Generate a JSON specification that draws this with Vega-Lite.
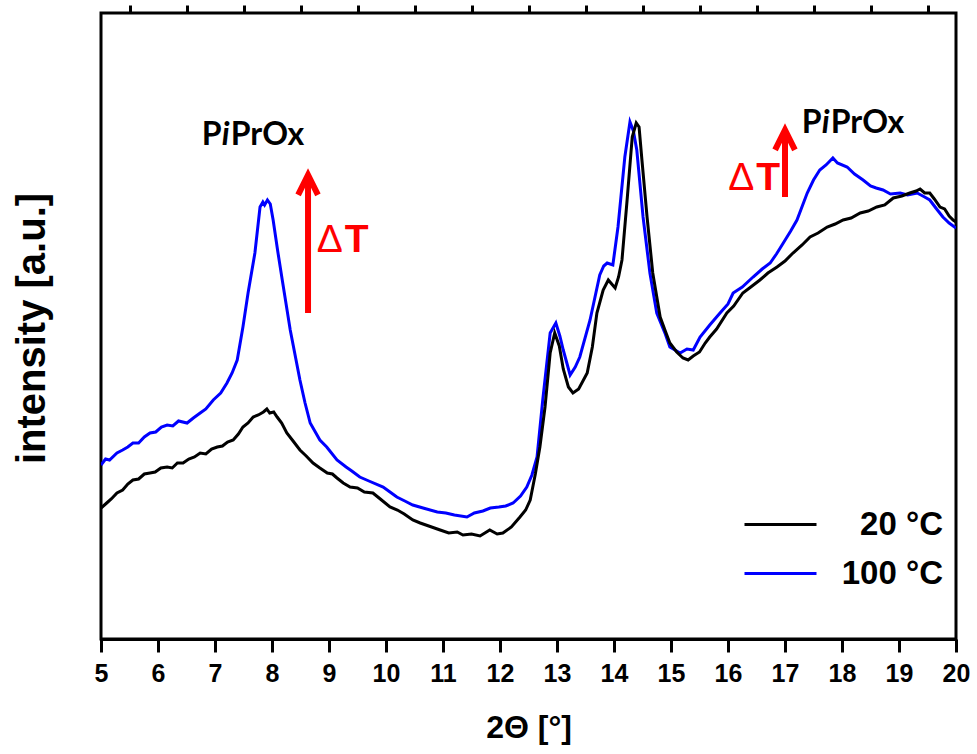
{
  "$schema": "https://vega.github.io/schema/vega-lite/v6.json",
  "width": 855,
  "height": 626,
  "autosize": {"type": "none"},
  "padding": {"left": 101, "top": 13, "right": 21, "bottom": 115},
  "background": "white",
  "config": {
    "font": "Liberation Sans",
    "view": {"stroke": "black", "strokeWidth": 3}
  },
  "resolve": {"axis": {"x": "independent", "y": "independent"}},
  "layer": [
    {
      "data": {"values": [
        {"s":"100 °C","t":5.00,"v":174},{"s":"100 °C","t":5.08,"v":180},{"s":"100 °C","t":5.15,"v":179},{"s":"100 °C","t":5.28,"v":186},{"s":"100 °C","t":5.38,"v":189},{"s":"100 °C","t":5.47,"v":192},{"s":"100 °C","t":5.56,"v":196},{"s":"100 °C","t":5.66,"v":196},{"s":"100 °C","t":5.76,"v":202},{"s":"100 °C","t":5.86,"v":206},{"s":"100 °C","t":5.96,"v":207},{"s":"100 °C","t":6.06,"v":212},{"s":"100 °C","t":6.16,"v":214},{"s":"100 °C","t":6.26,"v":213},{"s":"100 °C","t":6.36,"v":218},{"s":"100 °C","t":6.51,"v":216},{"s":"100 °C","t":6.62,"v":221},{"s":"100 °C","t":6.74,"v":226},{"s":"100 °C","t":6.84,"v":230},{"s":"100 °C","t":6.97,"v":239},{"s":"100 °C","t":7.10,"v":246},{"s":"100 °C","t":7.21,"v":256},{"s":"100 °C","t":7.30,"v":266},{"s":"100 °C","t":7.39,"v":279},{"s":"100 °C","t":7.49,"v":312},{"s":"100 °C","t":7.58,"v":346},{"s":"100 °C","t":7.70,"v":386},{"s":"100 °C","t":7.79,"v":432},{"s":"100 °C","t":7.84,"v":437},{"s":"100 °C","t":7.87,"v":434},{"s":"100 °C","t":7.92,"v":439},{"s":"100 °C","t":7.97,"v":435},{"s":"100 °C","t":8.02,"v":419},{"s":"100 °C","t":8.10,"v":388},{"s":"100 °C","t":8.18,"v":359},{"s":"100 °C","t":8.32,"v":309},{"s":"100 °C","t":8.49,"v":259},{"s":"100 °C","t":8.58,"v":236},{"s":"100 °C","t":8.67,"v":216},{"s":"100 °C","t":8.76,"v":207},{"s":"100 °C","t":8.84,"v":199},{"s":"100 °C","t":8.96,"v":192},{"s":"100 °C","t":9.14,"v":179},{"s":"100 °C","t":9.30,"v":172},{"s":"100 °C","t":9.40,"v":168},{"s":"100 °C","t":9.54,"v":162},{"s":"100 °C","t":9.70,"v":158},{"s":"100 °C","t":9.95,"v":152},{"s":"100 °C","t":10.07,"v":147},{"s":"100 °C","t":10.19,"v":142},{"s":"100 °C","t":10.33,"v":138},{"s":"100 °C","t":10.47,"v":134},{"s":"100 °C","t":10.65,"v":131},{"s":"100 °C","t":10.90,"v":127},{"s":"100 °C","t":11.05,"v":126},{"s":"100 °C","t":11.20,"v":124},{"s":"100 °C","t":11.42,"v":122},{"s":"100 °C","t":11.55,"v":126},{"s":"100 °C","t":11.70,"v":128},{"s":"100 °C","t":11.83,"v":131},{"s":"100 °C","t":11.98,"v":132},{"s":"100 °C","t":12.10,"v":133},{"s":"100 °C","t":12.23,"v":136},{"s":"100 °C","t":12.36,"v":143},{"s":"100 °C","t":12.47,"v":152},{"s":"100 °C","t":12.56,"v":164},{"s":"100 °C","t":12.65,"v":182},{"s":"100 °C","t":12.75,"v":239},{"s":"100 °C","t":12.88,"v":306},{"s":"100 °C","t":12.98,"v":316},{"s":"100 °C","t":13.05,"v":303},{"s":"100 °C","t":13.11,"v":289},{"s":"100 °C","t":13.23,"v":264},{"s":"100 °C","t":13.32,"v":272},{"s":"100 °C","t":13.40,"v":282},{"s":"100 °C","t":13.58,"v":319},{"s":"100 °C","t":13.75,"v":364},{"s":"100 °C","t":13.82,"v":373},{"s":"100 °C","t":13.88,"v":376},{"s":"100 °C","t":13.98,"v":374},{"s":"100 °C","t":14.07,"v":412},{"s":"100 °C","t":14.19,"v":482},{"s":"100 °C","t":14.28,"v":517},{"s":"100 °C","t":14.34,"v":508},{"s":"100 °C","t":14.40,"v":489},{"s":"100 °C","t":14.51,"v":422},{"s":"100 °C","t":14.63,"v":366},{"s":"100 °C","t":14.75,"v":326},{"s":"100 °C","t":14.90,"v":305},{"s":"100 °C","t":14.98,"v":292},{"s":"100 °C","t":15.10,"v":288},{"s":"100 °C","t":15.16,"v":286},{"s":"100 °C","t":15.28,"v":290},{"s":"100 °C","t":15.39,"v":289},{"s":"100 °C","t":15.51,"v":302},{"s":"100 °C","t":15.68,"v":314},{"s":"100 °C","t":15.86,"v":326},{"s":"100 °C","t":16.00,"v":335},{"s":"100 °C","t":16.09,"v":346},{"s":"100 °C","t":16.25,"v":352},{"s":"100 °C","t":16.44,"v":362},{"s":"100 °C","t":16.60,"v":370},{"s":"100 °C","t":16.74,"v":376},{"s":"100 °C","t":16.85,"v":385},{"s":"100 °C","t":16.97,"v":396},{"s":"100 °C","t":17.10,"v":408},{"s":"100 °C","t":17.21,"v":419},{"s":"100 °C","t":17.39,"v":446},{"s":"100 °C","t":17.50,"v":459},{"s":"100 °C","t":17.61,"v":469},{"s":"100 °C","t":17.72,"v":474},{"s":"100 °C","t":17.84,"v":481},{"s":"100 °C","t":17.92,"v":476},{"s":"100 °C","t":18.09,"v":472},{"s":"100 °C","t":18.22,"v":465},{"s":"100 °C","t":18.37,"v":459},{"s":"100 °C","t":18.50,"v":453},{"s":"100 °C","t":18.60,"v":451},{"s":"100 °C","t":18.72,"v":449},{"s":"100 °C","t":18.85,"v":445},{"s":"100 °C","t":19.02,"v":446},{"s":"100 °C","t":19.15,"v":444},{"s":"100 °C","t":19.32,"v":446},{"s":"100 °C","t":19.45,"v":442},{"s":"100 °C","t":19.54,"v":439},{"s":"100 °C","t":19.66,"v":430},{"s":"100 °C","t":19.77,"v":422},{"s":"100 °C","t":19.88,"v":416},{"s":"100 °C","t":20.00,"v":411},
        {"s":"20 °C","t":5.00,"v":131},{"s":"20 °C","t":5.10,"v":136},{"s":"20 °C","t":5.18,"v":140},{"s":"20 °C","t":5.28,"v":146},{"s":"20 °C","t":5.38,"v":149},{"s":"20 °C","t":5.47,"v":155},{"s":"20 °C","t":5.56,"v":159},{"s":"20 °C","t":5.66,"v":160},{"s":"20 °C","t":5.76,"v":165},{"s":"20 °C","t":5.86,"v":166},{"s":"20 °C","t":5.95,"v":167},{"s":"20 °C","t":6.05,"v":171},{"s":"20 °C","t":6.16,"v":172},{"s":"20 °C","t":6.25,"v":171},{"s":"20 °C","t":6.34,"v":176},{"s":"20 °C","t":6.44,"v":176},{"s":"20 °C","t":6.54,"v":180},{"s":"20 °C","t":6.64,"v":182},{"s":"20 °C","t":6.74,"v":186},{"s":"20 °C","t":6.84,"v":185},{"s":"20 °C","t":6.94,"v":190},{"s":"20 °C","t":7.04,"v":192},{"s":"20 °C","t":7.13,"v":193},{"s":"20 °C","t":7.22,"v":197},{"s":"20 °C","t":7.32,"v":199},{"s":"20 °C","t":7.41,"v":205},{"s":"20 °C","t":7.49,"v":212},{"s":"20 °C","t":7.58,"v":216},{"s":"20 °C","t":7.67,"v":222},{"s":"20 °C","t":7.76,"v":224},{"s":"20 °C","t":7.85,"v":227},{"s":"20 °C","t":7.91,"v":230},{"s":"20 °C","t":7.96,"v":226},{"s":"20 °C","t":8.03,"v":227},{"s":"20 °C","t":8.09,"v":222},{"s":"20 °C","t":8.17,"v":216},{"s":"20 °C","t":8.26,"v":206},{"s":"20 °C","t":8.37,"v":198},{"s":"20 °C","t":8.49,"v":189},{"s":"20 °C","t":8.60,"v":183},{"s":"20 °C","t":8.72,"v":176},{"s":"20 °C","t":8.84,"v":171},{"s":"20 °C","t":8.97,"v":166},{"s":"20 °C","t":9.06,"v":165},{"s":"20 °C","t":9.14,"v":161},{"s":"20 °C","t":9.25,"v":156},{"s":"20 °C","t":9.37,"v":152},{"s":"20 °C","t":9.50,"v":151},{"s":"20 °C","t":9.62,"v":147},{"s":"20 °C","t":9.77,"v":146},{"s":"20 °C","t":9.90,"v":140},{"s":"20 °C","t":10.07,"v":132},{"s":"20 °C","t":10.20,"v":129},{"s":"20 °C","t":10.32,"v":125},{"s":"20 °C","t":10.47,"v":119},{"s":"20 °C","t":10.60,"v":116},{"s":"20 °C","t":10.75,"v":113},{"s":"20 °C","t":10.95,"v":109},{"s":"20 °C","t":11.10,"v":106},{"s":"20 °C","t":11.25,"v":107},{"s":"20 °C","t":11.35,"v":104},{"s":"20 °C","t":11.50,"v":105},{"s":"20 °C","t":11.65,"v":103},{"s":"20 °C","t":11.82,"v":109},{"s":"20 °C","t":11.95,"v":105},{"s":"20 °C","t":12.05,"v":106},{"s":"20 °C","t":12.20,"v":112},{"s":"20 °C","t":12.35,"v":122},{"s":"20 °C","t":12.45,"v":129},{"s":"20 °C","t":12.53,"v":139},{"s":"20 °C","t":12.62,"v":165},{"s":"20 °C","t":12.70,"v":192},{"s":"20 °C","t":12.79,"v":232},{"s":"20 °C","t":12.88,"v":286},{"s":"20 °C","t":12.96,"v":306},{"s":"20 °C","t":13.04,"v":293},{"s":"20 °C","t":13.11,"v":270},{"s":"20 °C","t":13.20,"v":252},{"s":"20 °C","t":13.28,"v":246},{"s":"20 °C","t":13.38,"v":250},{"s":"20 °C","t":13.53,"v":266},{"s":"20 °C","t":13.62,"v":292},{"s":"20 °C","t":13.70,"v":326},{"s":"20 °C","t":13.81,"v":349},{"s":"20 °C","t":13.90,"v":359},{"s":"20 °C","t":13.96,"v":355},{"s":"20 °C","t":14.02,"v":351},{"s":"20 °C","t":14.08,"v":362},{"s":"20 °C","t":14.14,"v":379},{"s":"20 °C","t":14.23,"v":439},{"s":"20 °C","t":14.32,"v":502},{"s":"20 °C","t":14.39,"v":516},{"s":"20 °C","t":14.44,"v":512},{"s":"20 °C","t":14.49,"v":479},{"s":"20 °C","t":14.58,"v":422},{"s":"20 °C","t":14.68,"v":366},{"s":"20 °C","t":14.81,"v":322},{"s":"20 °C","t":14.90,"v":308},{"s":"20 °C","t":14.98,"v":296},{"s":"20 °C","t":15.10,"v":287},{"s":"20 °C","t":15.21,"v":281},{"s":"20 °C","t":15.30,"v":279},{"s":"20 °C","t":15.39,"v":283},{"s":"20 °C","t":15.50,"v":287},{"s":"20 °C","t":15.60,"v":296},{"s":"20 °C","t":15.68,"v":302},{"s":"20 °C","t":15.80,"v":310},{"s":"20 °C","t":15.98,"v":326},{"s":"20 °C","t":16.10,"v":333},{"s":"20 °C","t":16.26,"v":346},{"s":"20 °C","t":16.40,"v":352},{"s":"20 °C","t":16.56,"v":359},{"s":"20 °C","t":16.70,"v":366},{"s":"20 °C","t":16.86,"v":372},{"s":"20 °C","t":17.00,"v":378},{"s":"20 °C","t":17.14,"v":386},{"s":"20 °C","t":17.30,"v":394},{"s":"20 °C","t":17.44,"v":402},{"s":"20 °C","t":17.58,"v":406},{"s":"20 °C","t":17.74,"v":412},{"s":"20 °C","t":17.88,"v":415},{"s":"20 °C","t":18.02,"v":419},{"s":"20 °C","t":18.16,"v":421},{"s":"20 °C","t":18.32,"v":426},{"s":"20 °C","t":18.46,"v":428},{"s":"20 °C","t":18.61,"v":432},{"s":"20 °C","t":18.75,"v":434},{"s":"20 °C","t":18.90,"v":441},{"s":"20 °C","t":19.05,"v":443},{"s":"20 °C","t":19.19,"v":446},{"s":"20 °C","t":19.30,"v":448},{"s":"20 °C","t":19.37,"v":450},{"s":"20 °C","t":19.45,"v":446},{"s":"20 °C","t":19.54,"v":446},{"s":"20 °C","t":19.62,"v":440},{"s":"20 °C","t":19.72,"v":432},{"s":"20 °C","t":19.80,"v":430},{"s":"20 °C","t":19.88,"v":423},{"s":"20 °C","t":19.95,"v":419},{"s":"20 °C","t":20.00,"v":417}
      ]},
      "mark": {"type": "line", "strokeWidth": 3, "clip": true},
      "encoding": {
        "x": {
          "field": "t", "type": "quantitative",
          "scale": {"domain": [5, 20], "nice": false, "zero": false},
          "axis": {
            "values": [5,6,7,8,9,10,11,12,13,14,15,16,17,18,19,20],
            "format": "d",
            "tickSize": 13, "tickWidth": 3, "tickColor": "black",
            "domainColor": "black", "domainWidth": 3,
            "grid": false,
            "labelFont": "Liberation Sans", "labelFontSize": 25, "labelFontWeight": "bold", "labelColor": "black",
            "labelPadding": 9, "labelOverlap": false, "labelFlush": false,
            "title": "2Θ [°]", "titleFont": "Liberation Sans", "titleFontSize": 32, "titleFontWeight": "bold", "titleColor": "black",
            "titlePadding": 26
          }
        },
        "y": {
          "field": "v", "type": "quantitative",
          "scale": {"domain": [0, 626], "nice": false, "zero": false},
          "axis": {
            "domain": false, "ticks": false, "labels": false, "grid": false,
            "title": "intensity [a.u.]", "titleFont": "Liberation Sans", "titleFontSize": 40, "titleFontWeight": "bold", "titleColor": "black",
            "titleAngle": 270, "titleBaseline": "middle", "titleX": -69, "titleY": 315, "titleAlign": "center"
          }
        },
        "color": {
          "field": "s", "type": "nominal",
          "scale": {"domain": ["20 °C", "100 °C"], "range": ["#000000", "#0000ff"]},
          "legend": {
            "title": null, "orient": "none", "legendX": 660, "legendY": 492,
            "symbolType": "M-2,0H2", "symbolSize": 1296, "symbolStrokeWidth": 3,
            "labelFont": "Liberation Sans", "labelFontSize": 33, "labelFontWeight": "bold", "labelColor": "black",
            "labelAlign": "right", "labelOffset": 143, "labelLimit": 400,
            "padding": 0, "rowPadding": 12
          }
        }
      }
    },
    {
      "data": {"values": [{"t": 8.632, "v": 326, "v2": 464}, {"t": 17.0, "v": 442, "v2": 509}]},
      "encoding": {
        "x": {
          "field": "t", "type": "quantitative",
          "axis": {
            "values": [5.5,6.5,7.5,8.5,9.5,10.5,11.5,12.5,13.5,14.5,15.5,16.5,17.5,18.5,19.5],
            "tickSize": 8, "tickWidth": 3, "tickColor": "black",
            "domain": false, "labels": false, "grid": false, "title": null
          }
        },
        "y": {"field": "v", "type": "quantitative", "axis": null}
      },
      "layer": [
        {"mark": {"type": "rule", "color": "#ff0000", "strokeWidth": 6}, "encoding": {"y2": {"field": "v2"}}},
        {"mark": {"type": "point", "shape": "M-0.9,1.8L0,0L0.9,1.8", "filled": false, "stroke": "#ff0000", "strokeWidth": 6, "size": 484, "strokeJoin": "miter", "opacity": 1}, "encoding": {"y": {"field": "v2", "type": "quantitative"}}}
      ]
    },
    {
      "data": {"values": [{"t": 6.767, "v": 494}, {"t": 17.293, "v": 506}]},
      "encoding": {
        "x": {"field": "t", "type": "quantitative", "axis": null},
        "y": {"field": "v", "type": "quantitative", "axis": null}
      },
      "layer": [
        {"mark": {"type": "text", "text": "P", "font": "Lato", "fontSize": 32, "fontWeight": "bold", "align": "left", "baseline": "alphabetic", "color": "black"}},
        {"mark": {"type": "text", "text": "i", "font": "Lato", "fontSize": 32, "fontWeight": "bold", "fontStyle": "italic", "align": "left", "baseline": "alphabetic", "dx": 20, "color": "black"}},
        {"mark": {"type": "text", "text": "PrOx", "font": "Lato", "fontSize": 32, "fontWeight": "bold", "align": "left", "baseline": "alphabetic", "dx": 29, "color": "black"}}
      ]
    },
    {
      "data": {"values": [{"t": 8.784, "v": 387}, {"t": 16.005, "v": 449}]},
      "encoding": {
        "x": {"field": "t", "type": "quantitative", "axis": null},
        "y": {"field": "v", "type": "quantitative", "axis": null}
      },
      "layer": [
        {"mark": {"type": "text", "text": "Δ", "font": "Liberation Sans", "fontSize": 39, "fontWeight": "normal", "align": "left", "baseline": "alphabetic", "color": "#ff0000"}},
        {"mark": {"type": "text", "text": "T", "font": "Liberation Sans", "fontSize": 39, "fontWeight": "bold", "align": "left", "baseline": "alphabetic", "dx": 28, "color": "#ff0000"}}
      ]
    }
  ]
}
